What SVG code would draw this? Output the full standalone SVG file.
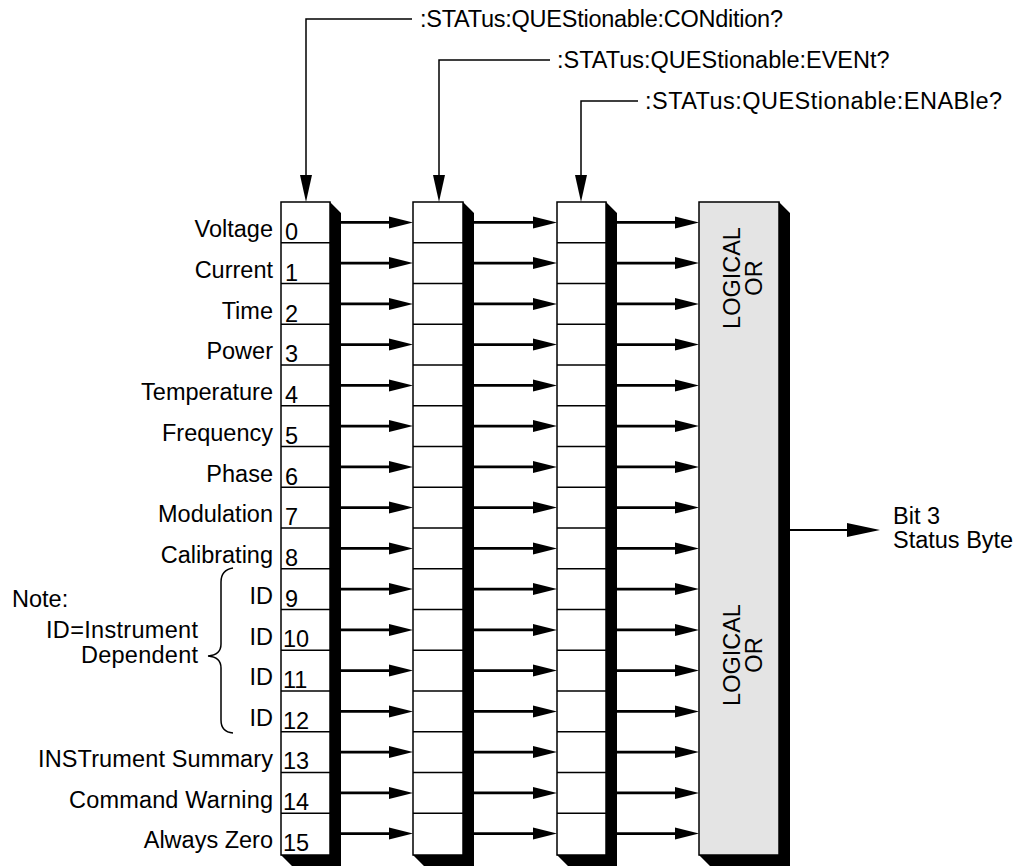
<svg xmlns="http://www.w3.org/2000/svg" width="1019" height="866" viewBox="0 0 1019 866">
<style>
text{font-family:"Liberation Sans",Arial,sans-serif;font-size:23.5px;fill:#000}
.lbl{text-anchor:end}
.box{fill:#fff;stroke:#000;stroke-width:1.5}
.orbox{fill:#e4e4e4;stroke:#000;stroke-width:1.5}
.shadow{fill:#000}
.row{stroke:#000;stroke-width:1.5}
.h{stroke:#000;stroke-width:2.8;fill:none;marker-end:url(#ah)}
.v{stroke:#000;stroke-width:1.5;fill:none;marker-end:url(#av)}
.thin{stroke:#000;stroke-width:1.5;fill:none}
</style>
<defs>
<marker id="ah" markerUnits="userSpaceOnUse" markerWidth="25" markerHeight="13" refX="10" refY="6.5" orient="auto" viewBox="0 0 25 13">
<path d="M0,0.5 L24,6.5 L0,12.5 Z" fill="#000"/>
</marker>
<marker id="av" markerUnits="userSpaceOnUse" markerWidth="28" markerHeight="13" refX="2" refY="6.5" orient="auto" viewBox="0 0 28 13">
<path d="M0,0.5 L27,6.5 L0,12.5 Z" fill="#000"/>
</marker>
<marker id="ao" markerUnits="userSpaceOnUse" markerWidth="34" markerHeight="15" refX="10" refY="7.5" orient="auto" viewBox="0 0 34 15">
<path d="M0,0.5 L33,7.5 L0,14.5 Z" fill="#000"/>
</marker>
</defs>

<g id="labels">
<text class="lbl" x="273" y="237">Voltage</text>
<text class="lbl" x="273" y="278">Current</text>
<text class="lbl" x="273" y="319">Time</text>
<text class="lbl" x="273" y="359">Power</text>
<text class="lbl" x="273" y="400">Temperature</text>
<text class="lbl" x="273" y="441">Frequency</text>
<text class="lbl" x="273" y="482">Phase</text>
<text class="lbl" x="273" y="522">Modulation</text>
<text class="lbl" x="273" y="563">Calibrating</text>
<text class="lbl" x="273" y="604">ID</text>
<text class="lbl" x="273" y="645">ID</text>
<text class="lbl" x="273" y="685">ID</text>
<text class="lbl" x="273" y="726">ID</text>
<text class="lbl" x="273" y="767" textLength="235">INSTrument Summary</text>
<text class="lbl" x="273" y="808" textLength="204">Command Warning</text>
<text class="lbl" x="273" y="848">Always Zero</text>
</g>

<g id="note">
<text x="12" y="607">Note:</text>
<text class="lbl" x="198" y="638" textLength="152">ID=Instrument</text>
<text class="lbl" x="198" y="663" textLength="117">Dependent</text>
<path class="thin" d="M233,568 Q221,570 221,582 L221,644 Q221,655 208,656 Q221,657 221,668 L221,720 Q221,732 233,733"/>
</g>

<g id="condition">
<path class="shadow" d="M330,202 L341,213 L341,866 L292,866 L281,855 L330,855 Z"/>
<rect class="box" x="281" y="202" width="49" height="653"/>
<g class="row">
<line x1="281" y1="242.8" x2="330" y2="242.8"/><line x1="281" y1="283.5" x2="330" y2="283.5"/><line x1="281" y1="324.3" x2="330" y2="324.3"/><line x1="281" y1="365" x2="330" y2="365"/><line x1="281" y1="405.8" x2="330" y2="405.8"/><line x1="281" y1="446.5" x2="330" y2="446.5"/><line x1="281" y1="487.3" x2="330" y2="487.3"/><line x1="281" y1="528" x2="330" y2="528"/><line x1="281" y1="568.8" x2="330" y2="568.8"/><line x1="281" y1="609.5" x2="330" y2="609.5"/><line x1="281" y1="650.3" x2="330" y2="650.3"/><line x1="281" y1="691" x2="330" y2="691"/><line x1="281" y1="731.8" x2="330" y2="731.8"/><line x1="281" y1="772.5" x2="330" y2="772.5"/><line x1="281" y1="813.3" x2="330" y2="813.3"/>
</g>
<text x="285" y="240">0</text>
<text x="285" y="281">1</text>
<text x="285" y="322">2</text>
<text x="285" y="362">3</text>
<text x="285" y="403">4</text>
<text x="285" y="444">5</text>
<text x="285" y="485">6</text>
<text x="285" y="525">7</text>
<text x="285" y="566">8</text>
<text x="285" y="607">9</text>
<text x="283" y="647">10</text>
<text x="283" y="688">11</text>
<text x="283" y="729">12</text>
<text x="283" y="769">13</text>
<text x="283" y="810">14</text>
<text x="283" y="851">15</text>
</g>

<g id="event">
<path class="shadow" d="M463,202 L474,213 L474,866 L424,866 L413,855 L463,855 Z"/>
<rect class="box" x="413" y="202" width="50" height="653"/>
<g class="row">
<line x1="413" y1="242.8" x2="463" y2="242.8"/><line x1="413" y1="283.5" x2="463" y2="283.5"/><line x1="413" y1="324.3" x2="463" y2="324.3"/><line x1="413" y1="365" x2="463" y2="365"/><line x1="413" y1="405.8" x2="463" y2="405.8"/><line x1="413" y1="446.5" x2="463" y2="446.5"/><line x1="413" y1="487.3" x2="463" y2="487.3"/><line x1="413" y1="528" x2="463" y2="528"/><line x1="413" y1="568.8" x2="463" y2="568.8"/><line x1="413" y1="609.5" x2="463" y2="609.5"/><line x1="413" y1="650.3" x2="463" y2="650.3"/><line x1="413" y1="691" x2="463" y2="691"/><line x1="413" y1="731.8" x2="463" y2="731.8"/><line x1="413" y1="772.5" x2="463" y2="772.5"/><line x1="413" y1="813.3" x2="463" y2="813.3"/>
</g>
</g>

<g id="enable">
<path class="shadow" d="M606,202 L617,213 L617,866 L568,866 L557,855 L606,855 Z"/>
<rect class="box" x="557" y="202" width="49" height="653"/>
<g class="row">
<line x1="557" y1="242.8" x2="606" y2="242.8"/><line x1="557" y1="283.5" x2="606" y2="283.5"/><line x1="557" y1="324.3" x2="606" y2="324.3"/><line x1="557" y1="365" x2="606" y2="365"/><line x1="557" y1="405.8" x2="606" y2="405.8"/><line x1="557" y1="446.5" x2="606" y2="446.5"/><line x1="557" y1="487.3" x2="606" y2="487.3"/><line x1="557" y1="528" x2="606" y2="528"/><line x1="557" y1="568.8" x2="606" y2="568.8"/><line x1="557" y1="609.5" x2="606" y2="609.5"/><line x1="557" y1="650.3" x2="606" y2="650.3"/><line x1="557" y1="691" x2="606" y2="691"/><line x1="557" y1="731.8" x2="606" y2="731.8"/><line x1="557" y1="772.5" x2="606" y2="772.5"/><line x1="557" y1="813.3" x2="606" y2="813.3"/>
</g>
</g>

<g id="logical-or">
<path class="shadow" d="M779,202 L790,213 L790,866 L710,866 L699,855 L779,855 Z"/>
<rect class="orbox" x="699" y="202" width="80" height="653"/>
<text transform="translate(740,278) rotate(-90)" text-anchor="middle">LOGICAL</text>
<text transform="translate(762,278) rotate(-90)" text-anchor="middle">OR</text>
<text transform="translate(740,655) rotate(-90)" text-anchor="middle">LOGICAL</text>
<text transform="translate(762,655) rotate(-90)" text-anchor="middle">OR</text>
</g>

<g id="commands">
<text x="420" y="27" textLength="363">:STATus:QUEStionable:CONdition?</text>
<text x="557" y="68">:STATus:QUEStionable:EVENt?</text>
<text x="645" y="109" textLength="357">:STATus:QUEStionable:ENABle?</text>
</g>

<g id="output">
<text x="893" y="524">Bit 3</text>
<text x="893" y="548">Status Byte</text>
</g>

<g id="connectors">
<path class="v" d="M412,19 L306,19 L306,177"/>
<path class="v" d="M550,60 L439,60 L439,177"/>
<path class="v" d="M638,101 L581,101 L581,177"/>
<g id="c1">
<line class="h" x1="341" y1="222.4" x2="399" y2="222.4"/><line class="h" x1="341" y1="263.1" x2="399" y2="263.1"/><line class="h" x1="341" y1="303.9" x2="399" y2="303.9"/><line class="h" x1="341" y1="344.6" x2="399" y2="344.6"/><line class="h" x1="341" y1="385.4" x2="399" y2="385.4"/><line class="h" x1="341" y1="426.1" x2="399" y2="426.1"/><line class="h" x1="341" y1="466.9" x2="399" y2="466.9"/><line class="h" x1="341" y1="507.6" x2="399" y2="507.6"/><line class="h" x1="341" y1="548.4" x2="399" y2="548.4"/><line class="h" x1="341" y1="589.1" x2="399" y2="589.1"/><line class="h" x1="341" y1="629.9" x2="399" y2="629.9"/><line class="h" x1="341" y1="670.6" x2="399" y2="670.6"/><line class="h" x1="341" y1="711.4" x2="399" y2="711.4"/><line class="h" x1="341" y1="752.1" x2="399" y2="752.1"/><line class="h" x1="341" y1="792.9" x2="399" y2="792.9"/><line class="h" x1="341" y1="833.6" x2="399" y2="833.6"/>
</g>
<g id="c2">
<line class="h" x1="474" y1="222.4" x2="543" y2="222.4"/><line class="h" x1="474" y1="263.1" x2="543" y2="263.1"/><line class="h" x1="474" y1="303.9" x2="543" y2="303.9"/><line class="h" x1="474" y1="344.6" x2="543" y2="344.6"/><line class="h" x1="474" y1="385.4" x2="543" y2="385.4"/><line class="h" x1="474" y1="426.1" x2="543" y2="426.1"/><line class="h" x1="474" y1="466.9" x2="543" y2="466.9"/><line class="h" x1="474" y1="507.6" x2="543" y2="507.6"/><line class="h" x1="474" y1="548.4" x2="543" y2="548.4"/><line class="h" x1="474" y1="589.1" x2="543" y2="589.1"/><line class="h" x1="474" y1="629.9" x2="543" y2="629.9"/><line class="h" x1="474" y1="670.6" x2="543" y2="670.6"/><line class="h" x1="474" y1="711.4" x2="543" y2="711.4"/><line class="h" x1="474" y1="752.1" x2="543" y2="752.1"/><line class="h" x1="474" y1="792.9" x2="543" y2="792.9"/><line class="h" x1="474" y1="833.6" x2="543" y2="833.6"/>
</g>
<g id="c3">
<line class="h" x1="617" y1="222.4" x2="685" y2="222.4"/><line class="h" x1="617" y1="263.1" x2="685" y2="263.1"/><line class="h" x1="617" y1="303.9" x2="685" y2="303.9"/><line class="h" x1="617" y1="344.6" x2="685" y2="344.6"/><line class="h" x1="617" y1="385.4" x2="685" y2="385.4"/><line class="h" x1="617" y1="426.1" x2="685" y2="426.1"/><line class="h" x1="617" y1="466.9" x2="685" y2="466.9"/><line class="h" x1="617" y1="507.6" x2="685" y2="507.6"/><line class="h" x1="617" y1="548.4" x2="685" y2="548.4"/><line class="h" x1="617" y1="589.1" x2="685" y2="589.1"/><line class="h" x1="617" y1="629.9" x2="685" y2="629.9"/><line class="h" x1="617" y1="670.6" x2="685" y2="670.6"/><line class="h" x1="617" y1="711.4" x2="685" y2="711.4"/><line class="h" x1="617" y1="752.1" x2="685" y2="752.1"/><line class="h" x1="617" y1="792.9" x2="685" y2="792.9"/><line class="h" x1="617" y1="833.6" x2="685" y2="833.6"/>
</g>
<line x1="790" y1="530" x2="857" y2="530" stroke="#000" stroke-width="2" marker-end="url(#ao)"/>
</g>
</svg>
